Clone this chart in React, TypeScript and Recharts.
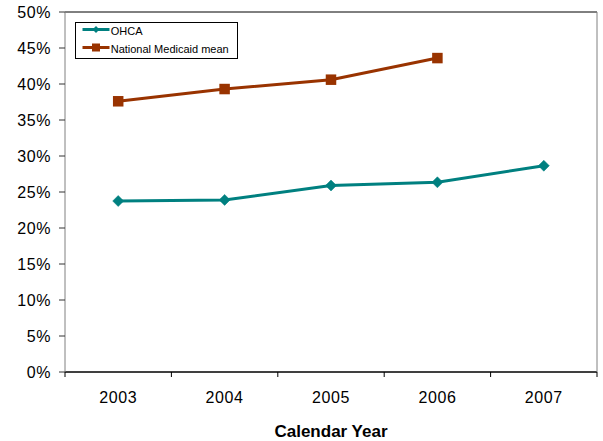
import React from 'react';
import { LineChart, Line, XAxis, YAxis, CartesianGrid, Legend, ReferenceLine } from 'recharts';

const years = ['2003', '2004', '2005', '2006', '2007'];
const ohca = [0.2375, 0.239, 0.259, 0.2635, 0.2865];
const national: (number | null)[] = [0.376, 0.393, 0.406, 0.436, null];
const yTicks = [0, 0.05, 0.1, 0.15, 0.2, 0.25, 0.3, 0.35, 0.4, 0.45, 0.5];
const seriesOrder = ['ohca', 'national'];

const TEAL = '#008080';
const BROWN = '#993300';
const FONT = '"Liberation Sans", Arial, sans-serif';

const data = years.map((y, i) => ({ year: y, ohca: ohca[i], national: national[i] }));

const W = 603;
const H = 441;
const M = { top: 12, right: 5, left: 0, bottom: 0 };
const Y_W = 65;
const X_H = 69;
const PLOT_W = W - M.left - M.right - Y_W - 1;
const BW = PLOT_W / years.length;

const Diamond = (props: any) => {
  const { cx, cy } = props;
  if (cx == null || cy == null || props.value == null) return null;
  const r = 5.5;
  return (
    <polygon
      points={`${cx},${cy - r} ${cx + r},${cy} ${cx},${cy + r} ${cx - r},${cy}`}
      fill={TEAL}
      stroke={TEAL}
      strokeWidth={0.5}
    />
  );
};

const Square = (props: any) => {
  const { cx, cy } = props;
  if (cx == null || cy == null || props.value == null) return null;
  const s = 10.5;
  return <rect x={cx - s / 2} y={cy - s / 2} width={s} height={s} fill={BROWN} />;
};

const XTick = (props: any) => {
  const { x, y, payload, index } = props;
  const left = x - BW / 2;
  const right = x + BW / 2;
  return (
    <g>
      <line x1={left} y1={y} x2={left} y2={y + 5} stroke="#000" strokeWidth={1} />
      {index === years.length - 1 && (
        <line x1={right} y1={y} x2={right} y2={y + 5} stroke="#000" strokeWidth={1} />
      )}
      <text
        x={x}
        y={y + 31}
        textAnchor="middle"
        fontSize={16}
        fontFamily={FONT}
        fill="#000"
        letterSpacing={0.6}
      >
        {payload.value}
      </text>
    </g>
  );
};

const LegendBox = (props: any) => {
  const payload = [...(props.payload || [])].sort(
    (a: any, b: any) => seriesOrder.indexOf(a.dataKey) - seriesOrder.indexOf(b.dataKey)
  );
  return (
    <svg width={163} height={37} style={{ display: 'block' }}>
      <rect x={0.5} y={0.5} width={162} height={36} fill="#fff" stroke="#000" strokeWidth={1} />
      {payload.map((entry: any, i: number) => {
        const cy = 7.5 + i * 18;
        const isOhca = entry.dataKey === 'ohca';
        return (
          <g key={entry.dataKey}>
            <line x1={7.5} y1={cy} x2={34.5} y2={cy} stroke={entry.color} strokeWidth={3} />
            {isOhca ? (
              <polygon
                points={`21,${cy - 3.5} 24.5,${cy} 21,${cy + 3.5} 17.5,${cy}`}
                fill={entry.color}
              />
            ) : (
              <rect x={17} y={cy - 4} width={8} height={8} fill={entry.color} />
            )}
            <text x={35.7} y={cy + 5.5} fontSize={11} fontFamily={FONT} fill="#000">
              {entry.value}
            </text>
          </g>
        );
      })}
    </svg>
  );
};

export default function App() {
  return (
    <div style={{ position: 'absolute', left: 0, top: 0, width: W, height: H, background: '#fff' }}>
      <LineChart width={W} height={H} data={data} margin={M}>
        <CartesianGrid vertical={false} stroke="#000" strokeDasharray="" />
        <XAxis
          dataKey="year"
          scale="band"
          height={X_H}
          tickLine={false}
          tickSize={0}
          tickMargin={0}
          axisLine={{ stroke: '#000' }}
          tick={<XTick />}
          interval={0}
          label={{
            value: 'Calendar Year',
            position: 'insideBottom',
            offset: 4,
            fontSize: 17,
            fontWeight: 'bold',
            fontFamily: FONT,
            fill: '#000',
          }}
        />
        <YAxis
          yAxisId="l"
          width={Y_W}
          domain={[0, 0.5]}
          ticks={yTicks}
          interval={0}
          tickFormatter={(v: number) => `${Math.round(v * 100)}%`}
          tick={{ fill: '#000', fontSize: 16, fontFamily: FONT, letterSpacing: 0.6 }}
          tickSize={6}
          tickMargin={8}
          axisLine={{ stroke: '#808080' }}
          tickLine={{ stroke: '#333' }}
        />
        <YAxis
          yAxisId="r"
          orientation="right"
          width={1}
          domain={[0, 0.5]}
          tick={false}
          tickLine={false}
          axisLine={{ stroke: '#808080' }}
        />
        <ReferenceLine yAxisId="l" y={0.5} stroke="#808080" />
        <Legend
          layout="vertical"
          align="center"
          verticalAlign="middle"
          wrapperStyle={{ left: 75, top: 21.5, width: 163, height: 37 }}
          content={<LegendBox />}
        />
        <Line
          yAxisId="l"
          type="linear"
          dataKey="ohca"
          name="OHCA"
          stroke={TEAL}
          strokeWidth={3}
          dot={<Diamond />}
          activeDot={false}
          isAnimationActive={false}
        />
        <Line
          yAxisId="l"
          type="linear"
          dataKey="national"
          name="National Medicaid mean"
          stroke={BROWN}
          strokeWidth={3}
          dot={<Square />}
          activeDot={false}
          isAnimationActive={false}
        />
      </LineChart>
    </div>
  );
}
